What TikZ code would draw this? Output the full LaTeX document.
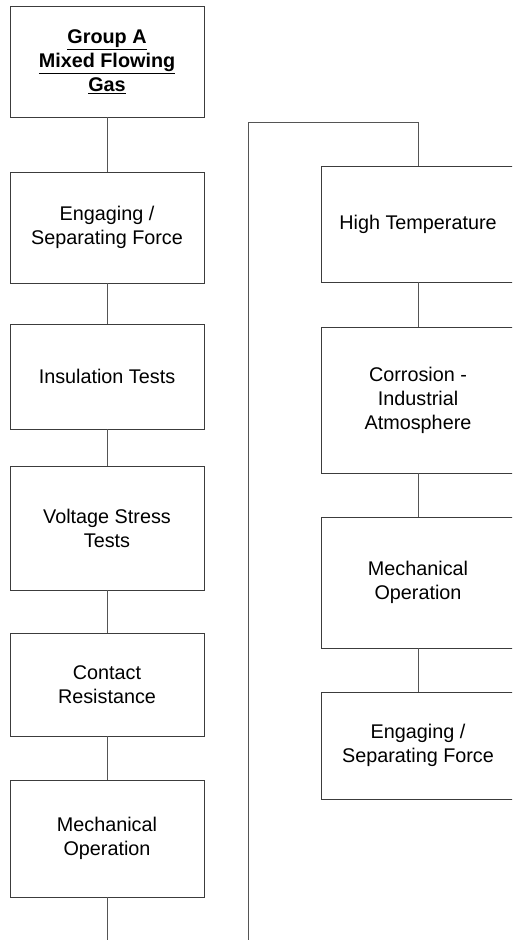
\documentclass[tikz,border=0pt]{standalone}
\usepackage{fontspec}
\setmainfont{Liberation Sans}
\definecolor{linkgray}{RGB}{85,85,85}
\definecolor{boxgray}{RGB}{60,60,60}
\begin{document}
\begin{tikzpicture}[x=1pt,y=1pt,
  line/.style={draw=linkgray, line width=1pt},
  stepbox/.style={rectangle, draw=boxgray, line width=0.9pt, fill=white,
    inner sep=0pt, minimum width=194pt, align=center,
    font=\fontsize{19.8}{24}\selectfont},
]
\useasboundingbox (0,0) rectangle (512,-940);
\clip (0,0) rectangle (512,-940);

% left column
\node[stepbox, minimum height=111pt, font=\fontsize{19.8}{24}\selectfont\bfseries] (b1) at (107,-61.5)
  {\underline{Group A}\\\underline{Mixed Flowing}\\\underline{Gas}};
\node[stepbox, minimum height=111pt] (b2) at (107,-227.5) {Engaging /\\Separating Force};
\node[stepbox, minimum height=105pt] (b3) at (107,-376.5) {Insulation Tests};
\node[stepbox, minimum height=124pt] (b4) at (107,-528) {Voltage Stress\\Tests};
\node[stepbox, minimum height=103pt] (b5) at (107,-684.5) {Contact\\Resistance};
\node[stepbox, minimum height=117pt] (b6) at (107,-838.5) {Mechanical\\Operation};

% right column
\node[stepbox, minimum height=116pt] (r1) at (418,-224) {High Temperature};
\node[stepbox, minimum height=146pt] (r2) at (418,-400) {Corrosion -\\Industrial\\Atmosphere};
\node[stepbox, minimum height=131pt] (r3) at (418,-582.5) {Mechanical\\Operation};
\node[stepbox, minimum height=107pt] (r4) at (418,-745.5) {Engaging /\\Separating Force};

\coordinate (endL) at (107,-940);
\coordinate (endR) at (248,-940);
\coordinate (turn) at (418,-122);

% connectors
\draw[line] (b1) -- (b2);
\draw[line] (b2) -- (b3);
\draw[line] (b3) -- (b4);
\draw[line] (b4) -- (b5);
\draw[line] (b5) -- (b6);
\draw[line] (b6) -- (endL);
\draw[line] (endR) |- (turn) -- (r1);
\draw[line] (r1) -- (r2);
\draw[line] (r2) -- (r3);
\draw[line] (r3) -- (r4);
\end{tikzpicture}
\end{document}
